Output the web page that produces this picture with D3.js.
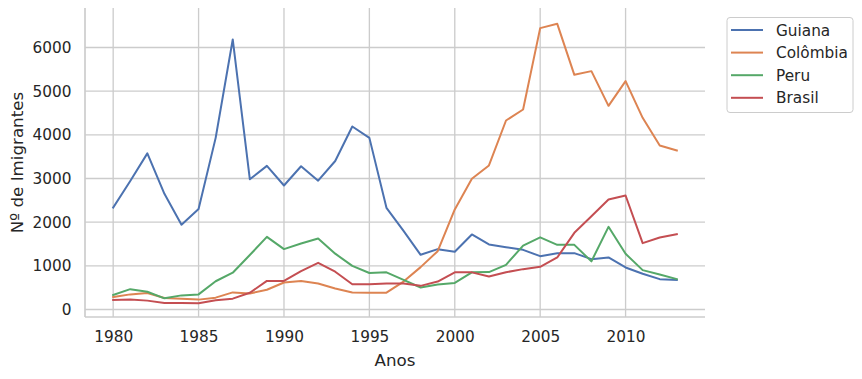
<!DOCTYPE html>
<html>
<head>
<meta charset="utf-8">
<script src="https://cdn.jsdelivr.net/npm/d3@7"></script>
<style>
  html, body { margin: 0; padding: 0; background: #fff; }
  svg text { font-family: "DejaVu Sans", sans-serif; fill: #262626; }
</style>
</head>
<body>
<svg id="chart" width="862" height="379"></svg>
<script>
const years = d3.range(1980, 2014);
const guiana = [2334, 2943, 3575, 2650, 1941, 2300, 3930, 6183, 2983, 3288, 2840, 3280, 2950, 3400, 4190, 3930, 2328, 1800, 1252, 1382, 1321, 1718, 1489, 1427, 1366, 1221, 1290, 1290, 1153, 1191, 962, 817, 695, 679];
const colombia = [286, 346, 376, 263, 248, 226, 271, 391, 368, 451, 617, 654, 594, 481, 391, 385, 385, 640, 970, 1336, 2290, 2992, 3298, 4328, 4580, 6443, 6542, 5374, 5458, 4664, 5229, 4389, 3756, 3641];
const peru = [331, 466, 406, 256, 323, 346, 647, 842, 1248, 1662, 1383, 1511, 1624, 1278, 1000, 835, 850, 677, 504, 571, 609, 850, 857, 1023, 1462, 1652, 1480, 1480, 1102, 1893, 1275, 901, 802, 695];
const brasil = [218, 226, 203, 150, 150, 143, 211, 248, 383, 654, 654, 880, 1068, 865, 579, 579, 594, 594, 541, 639, 850, 850, 754, 853, 924, 977, 1191, 1756, 2137, 2519, 2611, 1519, 1649, 1725];
const seriesNames = ["Guiana", "Colômbia", "Peru", "Brasil"];
const seriesColors = ["#4c72b0", "#dd8452", "#55a868", "#c44e52"];
const yTicks = [0, 1000, 2000, 3000, 4000, 5000, 6000];
const xTicks = [1980, 1985, 1990, 1995, 2000, 2005, 2010];
const xLabel = "Anos";
const yLabel = "Nº de Imigrantes";

const seriesData = [guiana, colombia, peru, brasil];

const svg = d3.select("#chart");
const pLeft = 85, pRight = 705, pTop = 8, pBottom = 317;
const tickFont = "15.3px", labelFont = "16.7px";

const x = d3.scaleLinear().domain([1978.35, 2014.65]).range([pLeft, pRight]);
const y = d3.scaleLinear().domain([-172, 6904]).range([pBottom, pTop]);

const grid = svg.append("g");
grid.selectAll("line.h").data(yTicks).join("line")
  .attr("x1", pLeft).attr("x2", pRight)
  .attr("y1", d => y(d)).attr("y2", d => y(d))
  .attr("stroke", "#cccccc").attr("stroke-width", 1.33);
grid.selectAll("line.v").data(xTicks).join("line")
  .attr("x1", d => x(d)).attr("x2", d => x(d))
  .attr("y1", pTop).attr("y2", pBottom)
  .attr("stroke", "#cccccc").attr("stroke-width", 1.33);

const xAxis = d3.axisBottom(x).tickValues(xTicks).tickFormat(d3.format("d")).tickSize(0).tickPadding(14.5);
const yAxis = d3.axisLeft(y).tickValues(yTicks).tickFormat(d3.format("d")).tickSize(0).tickPadding(13.5);

const gx = svg.append("g").attr("transform", `translate(0,${pBottom})`).call(xAxis);
gx.select(".domain").remove();
gx.selectAll("text").style("font-size", tickFont).attr("fill", "#262626").attr("font-family", "DejaVu Sans");

const gy = svg.append("g").attr("transform", `translate(${pLeft},0)`).call(yAxis);
gy.select(".domain").remove();
gy.selectAll("text").style("font-size", tickFont).attr("fill", "#262626").attr("font-family", "DejaVu Sans");

svg.append("line").attr("x1", pLeft).attr("x2", pLeft).attr("y1", pTop).attr("y2", pBottom)
  .attr("stroke", "#cccccc").attr("stroke-width", 1.67);
svg.append("line").attr("x1", pLeft).attr("x2", pRight).attr("y1", pBottom).attr("y2", pBottom)
  .attr("stroke", "#cccccc").attr("stroke-width", 1.67);

const line = d3.line().x((d, i) => x(years[i])).y(d => y(d));
seriesData.forEach((s, k) => {
  svg.append("path").datum(s)
    .attr("fill", "none")
    .attr("stroke", seriesColors[k])
    .attr("stroke-width", 2)
    .attr("stroke-linejoin", "round")
    .attr("stroke-linecap", "square")
    .attr("d", line);
});

svg.append("text").attr("x", (pLeft + pRight) / 2).attr("y", 366)
  .attr("text-anchor", "middle").style("font-size", labelFont).text(xLabel);
svg.append("text").attr("transform", `translate(23,${(pTop + pBottom) / 2}) rotate(-90)`)
  .attr("text-anchor", "middle").style("font-size", labelFont).text(yLabel);

const lg = svg.append("g");
lg.append("rect").attr("x", 727).attr("y", 17.5).attr("width", 126).attr("height", 95)
  .attr("rx", 3).attr("fill", "#fff").attr("fill-opacity", 0.8)
  .attr("stroke", "#cccccc").attr("stroke-width", 1);
seriesNames.forEach((n, i) => {
  const yy = 30 + i * 22.6;
  lg.append("line").attr("x1", 731).attr("x2", 763).attr("y1", yy).attr("y2", yy)
    .attr("stroke", seriesColors[i]).attr("stroke-width", 2);
  lg.append("text").attr("x", 776).attr("y", yy).attr("dy", "0.36em")
    .style("font-size", tickFont).text(n);
});
</script>
</body>
</html>
